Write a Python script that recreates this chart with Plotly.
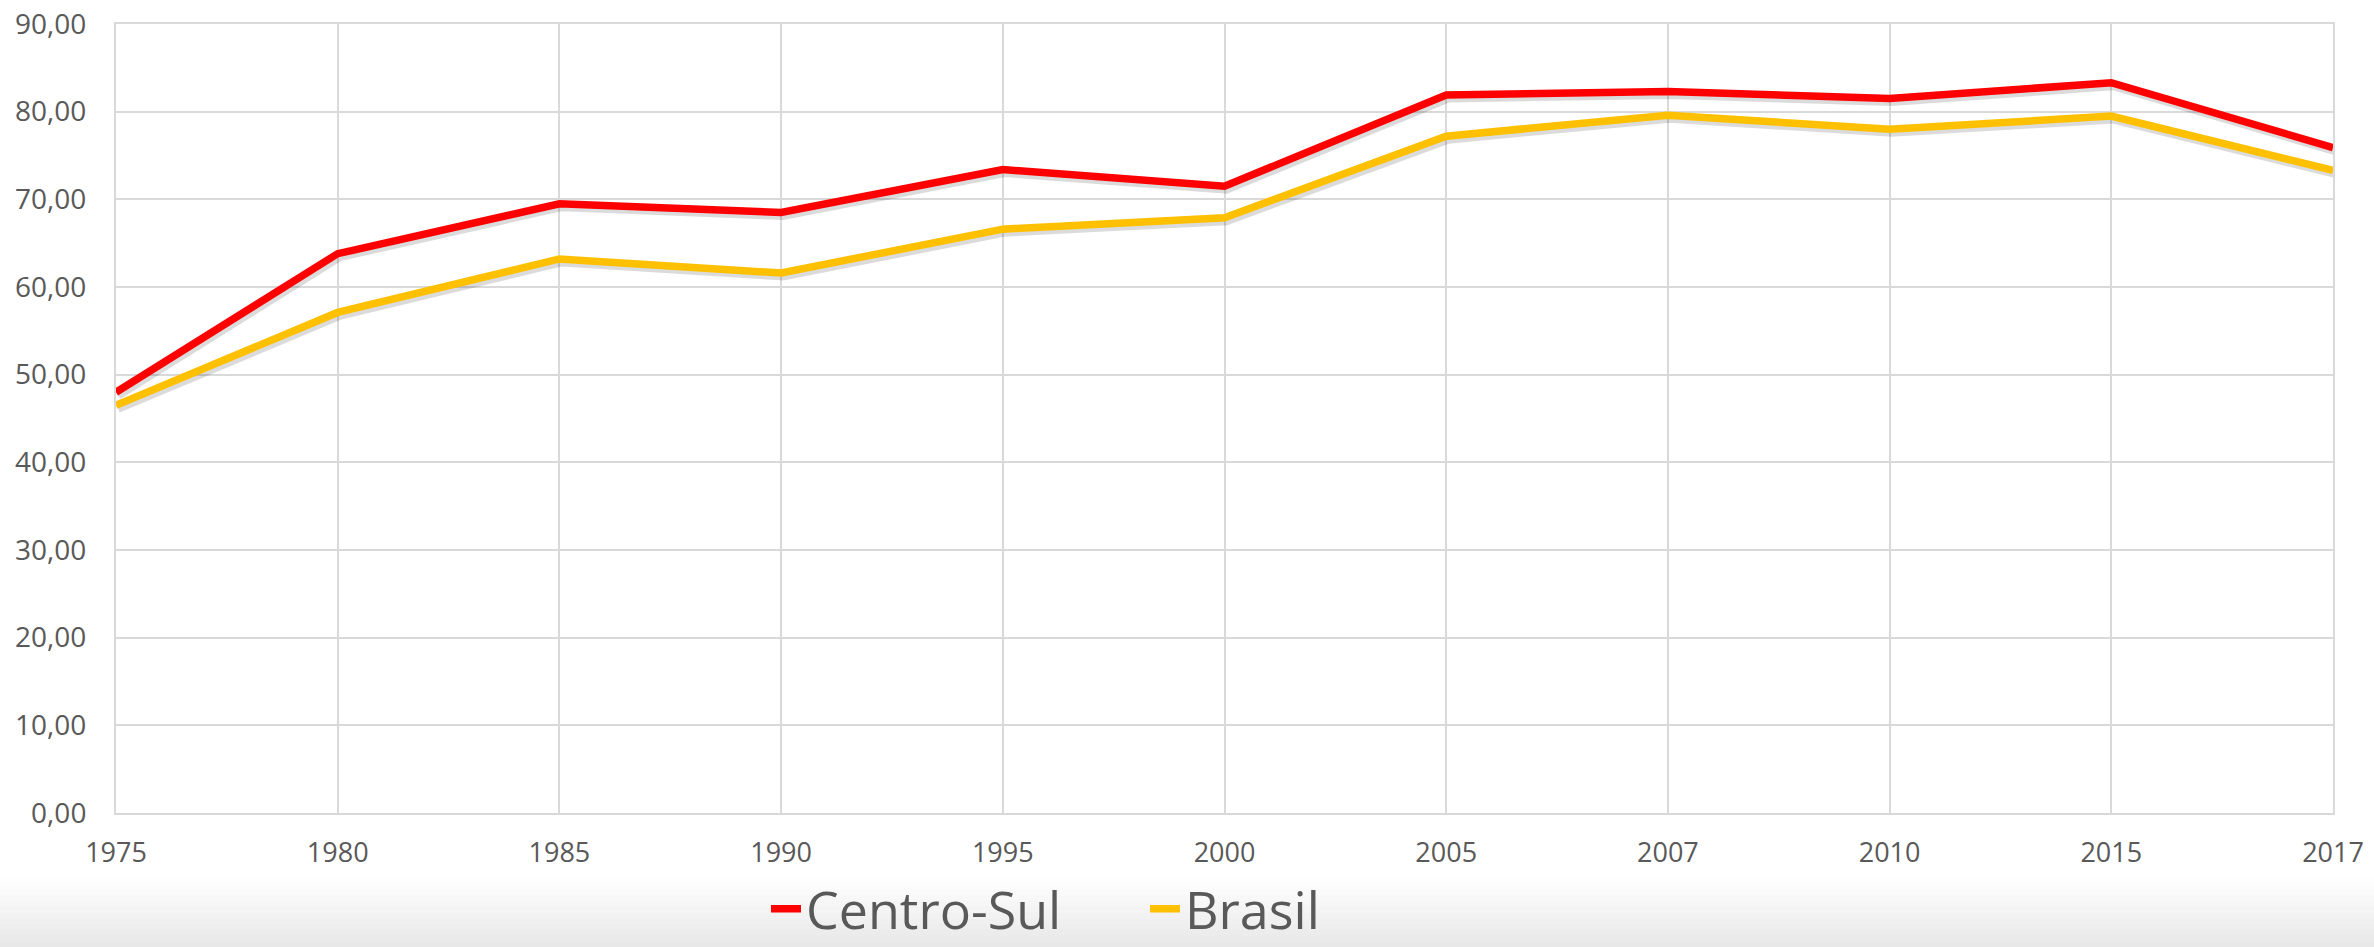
import plotly.graph_objects as go

anos = ["1975", "1980", "1985", "1990", "1995", "2000", "2005", "2007", "2010", "2015", "2017"]
centro_sul = [48.0, 63.8, 69.5, 68.5, 73.4, 71.5, 81.9, 82.3, 81.5, 83.3, 75.9]
brasil = [46.5, 57.1, 63.2, 61.6, 66.6, 67.9, 77.2, 79.6, 78.0, 79.5, 73.3]
y_ticks = [0, 10, 20, 30, 40, 50, 60, 70, 80, 90]

TXT = "#595959"
GRID = "#d9d9d9"
FONT = "Open Sans"

W, H = 2374, 947
L, R, T, B = 116, 41, 24, 134
PW, PH = W - L - R, H - T - B
YMAX = 90

# soft drop shadow drawn on twin axes, offset a few pixels (down / right)
sh_dy = 3 * YMAX / PH          # 3 px down, in data units
sh_dx = 2 * 10 / PW            # 2 px right, in category units
SHADOW = "rgba(0,0,0,0.14)"

fig = go.Figure()
# shadows (overlay layer 2)
for vals in (centro_sul, brasil):
    fig.add_trace(go.Scatter(x=anos, y=vals, mode="lines", showlegend=False,
                             hoverinfo="skip", xaxis="x2", yaxis="y2",
                             line=dict(color=SHADOW, width=9)))
# main lines (overlay layer 3, on top of shadows)
fig.add_trace(go.Scatter(x=anos, y=centro_sul, name="Centro-Sul", mode="lines",
                         xaxis="x3", yaxis="y3",
                         line=dict(color="#FF0000", width=7.5)))
fig.add_trace(go.Scatter(x=anos, y=brasil, name="Brasil", mode="lines",
                         xaxis="x3", yaxis="y3",
                         line=dict(color="#FFC000", width=7.5)))
# invisible anchor trace so the base axes render
fig.add_trace(go.Scatter(x=anos, y=[None] * len(anos), mode="lines", showlegend=False,
                         hoverinfo="skip"))

# soft gray gradient at the bottom of the picture
grad = ["#fefefe", "#fcfcfc", "#fafafa", "#f8f8f8", "#f6f6f6", "#f4f4f4",
        "#f2f2f2", "#f0f0f0", "#eeeeee", "#ececec", "#eaeaea", "#e8e8e8"]
top_px, bot_px = 878, 947
n = len(grad)
for i, c in enumerate(grad):
    y0 = top_px + (bot_px - top_px) * i / n
    y1 = top_px + (bot_px - top_px) * (i + 1) / n
    fig.add_shape(type="rect", xref="paper", yref="paper",
                  x0=-L / PW - 0.01, x1=(W - L) / PW + 0.01,
                  y0=(H - B - y0) / PH, y1=(H - B - y1 - 1) / PH,
                  fillcolor=c, line=dict(width=0), layer="below")

hidden = dict(visible=False, showgrid=False, zeroline=False)
fig.update_layout(
    width=W, height=H,
    margin=dict(l=L, r=R, t=T, b=B, autoexpand=False),
    paper_bgcolor="white", plot_bgcolor="white",
    separators=",.",
    font=dict(family=FONT, color=TXT),
    showlegend=True,
    legend=dict(orientation="h", xref="container", yref="container",
                x=766 / W, xanchor="left", y=(H - 909) / H, yanchor="middle",
                font=dict(size=52, color=TXT, family=FONT), bgcolor="rgba(0,0,0,0)",
                entrywidth=334, tracegroupgap=0),
    xaxis=dict(type="category", categoryarray=anos, range=[0, 10], showgrid=True,
               gridcolor=GRID, gridwidth=2,
               showline=True, linecolor=GRID, linewidth=2, mirror=True,
               ticks="", tickfont=dict(size=27, color=TXT), ticklabelstandoff=15,
               zeroline=False),
    yaxis=dict(range=[0, YMAX], tickvals=y_ticks, tickformat=".2f", showgrid=True,
               gridcolor=GRID, gridwidth=2, showline=True, linecolor=GRID, linewidth=2,
               mirror=True, ticks="", tickfont=dict(size=28, color=TXT),
               ticklabelstandoff=22, zeroline=False),
    xaxis2=dict(type="category", overlaying="x", range=[-sh_dx, 10 - sh_dx], **hidden),
    yaxis2=dict(overlaying="y", range=[sh_dy, YMAX + sh_dy], **hidden),
    xaxis3=dict(type="category", overlaying="x", range=[0, 10], **hidden),
    yaxis3=dict(overlaying="y", range=[0, YMAX], **hidden),
)

fig.write_html("out.html", config={"displayModeBar": False},
               post_script="document.body.style.margin='0';document.body.style.overflow='hidden';")
